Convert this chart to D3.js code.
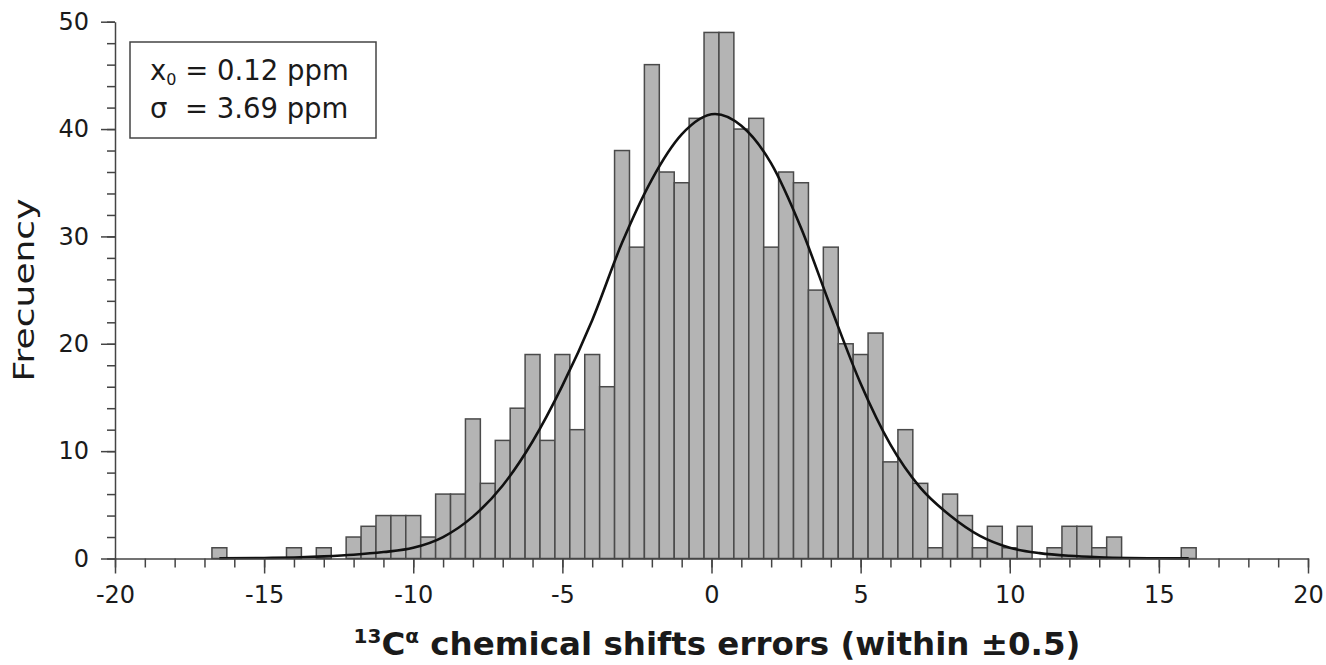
<!DOCTYPE html>
<html>
<head>
<meta charset="utf-8">
<script src="https://cdn.jsdelivr.net/npm/d3@7"></script>
<style>
  body { margin: 0; background: #fff; }
  text { font-family: "DejaVu Sans", sans-serif; fill: #1a1a1a; }
</style>
</head>
<body>
<div id="chart"></div>
<script>
// histogram bins (centre of each 0.5 ppm bin) and counts
const binCenters = [
  -16.5, -16, -15.5, -15, -14.5, -14, -13.5, -13, -12.5, -12,
  -11.5, -11, -10.5, -10, -9.5, -9, -8.5, -8, -7.5, -7,
  -6.5, -6, -5.5, -5, -4.5, -4, -3.5, -3, -2.5, -2,
  -1.5, -1, -0.5, 0, 0.5, 1, 1.5, 2, 2.5, 3,
  3.5, 4, 4.5, 5, 5.5, 6, 6.5, 7, 7.5, 8,
  8.5, 9, 9.5, 10, 10.5, 11, 11.5, 12, 12.5, 13,
  13.5, 14, 14.5, 15, 15.5, 16
];
const counts = [
  1, 0, 0, 0, 0, 1, 0, 1, 0, 2,
  3, 4, 4, 4, 2, 6, 6, 13, 7, 11,
  14, 19, 11, 19, 12, 19, 16, 38, 29, 46,
  36, 35, 41, 49, 49, 40, 41, 29, 36, 35,
  25, 29, 20, 19, 21, 9, 12, 7, 1, 6,
  4, 1, 3, 1, 3, 0, 1, 3, 3, 1,
  2, 0, 0, 0, 0, 1
];

// fitted gaussian, points
const fitX = [-16.5, -15, -14, -13, -12, -11, -10, -9, -8, -7, -6, -5, -4, -3, -2, -1,
  0.12, 1, 2, 3, 4, 5, 6, 7, 8, 9, 10, 11, 12, 13, 14, 15, 16];
const fitY = [0.02, 0.05, 0.1, 0.2, 0.35, 0.6, 1.0, 2.0, 3.9, 6.8, 10.9, 16.1, 22.2, 29.4, 35.3, 39.5,
  41.4, 40.3, 36.8, 30.8, 23.4, 16.3, 10.6, 6.6, 4.0, 2.1, 1.0, 0.5, 0.25, 0.12, 0.05, 0.02, 0.01];

const xTicks = [-20, -15, -10, -5, 0, 5, 10, 15, 20];
const yTicks = [0, 10, 20, 30, 40, 50];

const width = 1326;
const height = 665;
const binWidth = 0.5;

const svg = d3.select("#chart")
    .append("svg")
    .attr("width", width)
    .attr("height", height);

const x = d3.scaleLinear().domain([-20, 20]).range([115, 1308]);
const y = d3.scaleLinear().domain([0, 50]).range([558.5, 21.7]);

const bins = binCenters.map((c, i) => ({c: c, n: counts[i]})).filter(d => d.n > 0);

svg.append("g")
    .selectAll("rect")
    .data(bins)
    .join("rect")
    .attr("x", d => x(d.c - binWidth / 2))
    .attr("width", d => x(d.c + binWidth / 2) - x(d.c - binWidth / 2))
    .attr("y", d => y(d.n))
    .attr("height", d => y(0) - y(d.n))
    .attr("fill", "#b4b4b4")
    .attr("stroke", "#4a4a4a")
    .attr("stroke-width", 1.5);

const line = d3.line()
    .x((d, i) => x(fitX[i]))
    .y(d => y(d))
    .curve(d3.curveMonotoneX);

svg.append("path")
    .datum(fitY)
    .attr("fill", "none")
    .attr("stroke", "#111")
    .attr("stroke-width", 2.6)
    .attr("d", line);

// x axis: minor ticks every 1, major every 5
svg.append("g")
    .attr("transform", `translate(0,${y(0)})`)
    .call(d3.axisBottom(x).ticks(40).tickSize(9).tickSizeOuter(0).tickFormat(""));

svg.append("g")
    .attr("transform", `translate(0,${y(0)})`)
    .call(d3.axisBottom(x).tickValues(xTicks).tickSize(15).tickSizeOuter(0).tickPadding(12)
        .tickFormat(d => String(d)))
    .call(g => g.select(".domain").remove());

// y axis: minor ticks every 2, major every 10
svg.append("g")
    .attr("transform", `translate(${x(-20)},0)`)
    .call(d3.axisLeft(y).ticks(25).tickSize(8).tickSizeOuter(0).tickFormat(""));

svg.append("g")
    .attr("transform", `translate(${x(-20)},0)`)
    .call(d3.axisLeft(y).tickValues(yTicks).tickSize(14).tickSizeOuter(0).tickPadding(12)
        .tickFormat(d => String(d)))
    .call(g => g.select(".domain").remove());

svg.selectAll(".tick line, .domain")
    .attr("stroke", "#444")
    .attr("stroke-width", 1.5);

svg.selectAll(".tick text")
    .style("font-size", "24px")
    .attr("fill", "#1a1a1a");

// axis titles
svg.append("text")
    .attr("transform", "translate(34,290) rotate(-90)")
    .attr("text-anchor", "middle")
    .attr("textLength", 183)
    .attr("lengthAdjust", "spacingAndGlyphs")
    .style("font-size", "28px")
    .text("Frecuency");

const xTitle = svg.append("text")
    .attr("x", 717)
    .attr("y", 655)
    .attr("text-anchor", "middle")
    .style("font-size", "32.5px")
    .style("font-weight", "bold");
xTitle.append("tspan").attr("dy", -12).style("font-size", "20px").text("13");
xTitle.append("tspan").attr("dy", 12).text("C");
xTitle.append("tspan").attr("dy", -12).style("font-size", "20px").text("α");
xTitle.append("tspan").attr("dy", 12).text(" chemical shifts errors (within ±0.5)");

// fit parameters box
svg.append("rect")
    .attr("x", 130)
    .attr("y", 42)
    .attr("width", 246)
    .attr("height", 96)
    .attr("fill", "#fff")
    .attr("stroke", "#444")
    .attr("stroke-width", 1.5);

const l1 = svg.append("text")
    .attr("x", 150)
    .attr("y", 80)
    .style("font-size", "27.5px");
l1.append("tspan").text("x");
l1.append("tspan").attr("dy", 5).style("font-size", "16px").text("0");
l1.append("tspan").attr("dy", -5).text(" = 0.12 ppm");

svg.append("text")
    .attr("x", 150)
    .attr("y", 118)
    .style("font-size", "27.5px")
    .style("white-space", "pre")
    .text("σ  = 3.69 ppm");
</script>
</body>
</html>
